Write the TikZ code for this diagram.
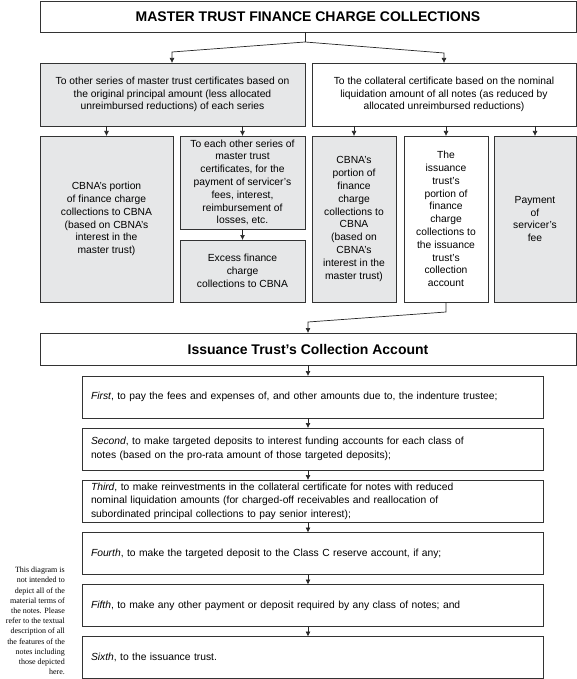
\documentclass[tikz,border=0pt]{standalone}
\usepackage{fontspec}
\usetikzlibrary{arrows.meta}
\setmainfont{Liberation Sans}
\newfontfamily\notefont{Liberation Serif}
\definecolor{boxgrey}{HTML}{E6E7E8}
\tikzset{
  box/.style={draw=black!80, line width=0.7pt, inner sep=0pt, outer sep=0pt,
    align=center, font=\fontsize{10.3}{12.8}\selectfont},
  greybox/.style={box, fill=boxgrey},
  headbox/.style={box, minimum width=536pt, font=\fontsize{14}{16}\selectfont\bfseries},
  stepbox/.style={box, minimum width=461pt, minimum height=42pt, text width=443pt,
    inner xsep=9pt, align=left, font=\fontsize{10.3}{13.5}\selectfont},
  arr/.style={-{Latex[length=5pt, width=5pt]}, draw=black!85, line width=0.7pt},
}
\begin{document}
\begin{tikzpicture}[x=1pt, y=-1pt]
\useasboundingbox (0,0) rectangle (577,679);
% master trust
\node[headbox, minimum height=31pt] (title) at (308,16.5) {MASTER TRUST FINANCE CHARGE COLLECTIONS};
\node[greybox, minimum width=265pt, minimum height=63pt] (other) at (172.5,94.5)
  {To other series of master trust certificates based on\\ the original principal amount (less allocated\\ unreimbursed reductions) of each series};
\node[box, minimum width=264pt, minimum height=63pt] (coll) at (444,94.5)
  {To the collateral certificate based on the nominal\\ liquidation amount of all notes (as reduced by\\ allocated unreimbursed reductions)};
% second row
\node[greybox, minimum width=133pt, minimum height=166pt] (cbnaL) at (106.5,219)
  {CBNA’s portion\\ of finance charge\\ collections to CBNA\\ (based on CBNA’s\\ interest in the\\ master trust)};
\node[greybox, minimum width=125pt, minimum height=93pt] (each) at (242.5,182.5)
  {To each other series of\\ master trust\\ certificates, for the\\ payment of servicer’s\\ fees, interest,\\ reimbursement of\\ losses, etc.};
\node[greybox, minimum width=125pt, minimum height=62pt] (excess) at (242.5,271)
  {Excess finance\\ charge\\ collections to CBNA};
\node[greybox, minimum width=84pt, minimum height=166pt] (cbnaR) at (354,219)
  {CBNA’s\\ portion of\\ finance\\ charge\\ collections to\\ CBNA\\ (based on\\ CBNA’s\\ interest in the\\ master trust)};
\node[box, minimum width=84pt, minimum height=166pt] (issp) at (446,219)
  {The\\ issuance\\ trust’s\\ portion of\\ finance\\ charge\\ collections to\\ the issuance\\ trust’s\\ collection\\ account};
\node[greybox, minimum width=82pt, minimum height=166pt] (fee) at (535,219)
  {Payment\\ of\\ servicer’s\\ fee};
% issuance trust
\node[headbox, minimum height=32pt] (ica) at (308,349) {Issuance Trust’s Collection Account};
\node[stepbox] (s1) at (312.5,397) {\textit{First}, to pay the fees and expenses of, and other amounts due to, the indenture trustee;};
\node[stepbox] (s2) at (312.5,449) {\textit{Second}, to make targeted deposits to interest funding accounts for each class of\\ notes (based on the pro-rata amount of those targeted deposits);};
\node[stepbox] (s3) at (312.5,501) {\textit{Third}, to make reinvestments in the collateral certificate for notes with reduced\\ nominal liquidation amounts (for charged-off receivables and reallocation of\\ subordinated principal collections to pay senior interest);};
\node[stepbox] (s4) at (312.5,553.5) {\textit{Fourth}, to make the targeted deposit to the Class C reserve account, if any;};
\node[stepbox] (s5) at (312.5,605.5) {\textit{Fifth}, to make any other payment or deposit required by any class of notes; and};
\node[stepbox] (s6) at (312.5,657.5) {\textit{Sixth}, to the issuance trust.};
\node[anchor=north east, inner sep=0pt, align=right, font=\notefont\fontsize{8}{10.2}\selectfont] (note) at (65,567)
  {This diagram is\\ not intended to\\ depict all of the\\ material terms of\\ the notes. Please\\ refer to the textual\\ description of all\\ the features of the\\ notes including\\ those depicted\\ here.};
% connectors
\coordinate (split) at (305,42);
\coordinate (splitL) at (172,52);
\coordinate (splitR) at (444,53);
\draw[line width=0.7pt, draw=black!85] (title.south -| split) -- (split);
\draw[arr] (split) -- (splitL) -- (splitL |- other.north);
\draw[arr] (split) -- (splitR) -- (splitR |- coll.north);
\draw[arr] (other.south -| cbnaL.north) -- (cbnaL.north);
\draw[arr] (other.south -| each.north) -- (each.north);
\draw[arr] (each.south) -- (excess.north);
\draw[arr] (coll.south -| cbnaR.north) -- (cbnaR.north);
\draw[arr] (coll.south -| issp.north) -- (issp.north);
\draw[arr] (coll.south -| fee.north) -- (fee.north);
\coordinate (bendA) at (446,312);
\coordinate (bendB) at (308,322);
\draw[arr] (issp.south) -- (bendA) -- (bendB) -- (bendB |- ica.north);
\draw[arr] (ica.south) -- (ica.south |- s1.north);
\draw[arr] (s1.south -| ica.south) -- (s2.north -| ica.south);
\draw[arr] (s2.south -| ica.south) -- (s3.north -| ica.south);
\draw[arr] (s3.south -| ica.south) -- (s4.north -| ica.south);
\draw[arr] (s4.south -| ica.south) -- (s5.north -| ica.south);
\draw[arr] (s5.south -| ica.south) -- (s6.north -| ica.south);
\end{tikzpicture}
\end{document}
